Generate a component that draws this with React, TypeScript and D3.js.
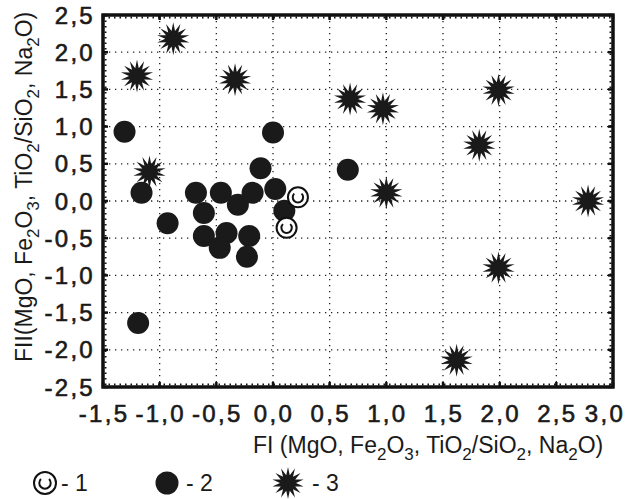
import React from "react";
import * as d3 from "d3";

// ---- data ----
const xTicks = [-1.5, -1.0, -0.5, 0.0, 0.5, 1.0, 1.5, 2.0, 2.5, 3.0];
const yTicks = [2.5, 2.0, 1.5, 1.0, 0.5, 0.0, -0.5, -1.0, -1.5, -2.0, -2.5];

const series1X = [0.22, 0.12];
const series1Y = [0.05, -0.36];

const series2X = [-1.31, 0.0, -1.16, -0.93, -1.19, 0.66, -0.11, -0.68, -0.46, -0.31, -0.18, 0.02, 0.1, -0.61, -0.61, -0.41, -0.21, -0.47, -0.23];
const series2Y = [0.93, 0.92, 0.11, -0.3, -1.64, 0.42, 0.44, 0.11, 0.11, -0.05, 0.11, 0.16, -0.13, -0.16, -0.47, -0.43, -0.47, -0.63, -0.75];

const series3X = [-0.88, -1.2, -0.335, -1.09, 0.68, 0.97, 1.99, 1.82, 1.0, 2.78, 1.99, 1.62];
const series3Y = [2.18, 1.68, 1.63, 0.39, 1.37, 1.24, 1.49, 0.75, 0.11, 0.0, -0.9, -2.14];

const legendLabels = ["- 1", "- 2", "- 3"];

// ---- layout ----
const W = 625, H = 499;
const L = 103, R = 613, T = 15, B = 387;

const x = d3.scaleLinear().domain([-1.5, 3.0]).range([L, R]);
const y = d3.scaleLinear().domain([-2.5, 2.5]).range([B, T]);
const fmt = (v: number) => d3.format(".1f")(v).replace(".", ",").replace("−", "-");

const tickFont = "'Liberation Sans Narrow', 'Arial Narrow', 'Liberation Sans', Arial, sans-serif";
const textFont = "'Liberation Sans', Arial, sans-serif";

function starPath(cx: number, cy: number, ro: number, ri: number, n: number) {
  const pts: [number, number][] = [];
  for (let i = 0; i < n * 2; i++) {
    const r = i % 2 === 0 ? ro : ri;
    const a = (Math.PI * i) / n - Math.PI / 2;
    pts.push([cx + r * Math.cos(a), cy + r * Math.sin(a)]);
  }
  return d3.line()(pts)! + "Z";
}

function CopyMark({ cx, cy, r }: { cx: number; cy: number; r: number }) {
  const arc = d3.arc()({
    innerRadius: r * 0.52,
    outerRadius: r * 0.52,
    startAngle: Math.PI * 0.25,
    endAngle: Math.PI * 1.75,
  } as any);
  return (
    <g transform={`translate(${cx},${cy})`}>
      <circle r={r} fill="white" stroke="#111" strokeWidth={2} />
      <path d={arc || ""} fill="none" stroke="#111" strokeWidth={2} />
    </g>
  );
}

function Title({ prefix }: { prefix: string }) {
  return (
    <>
      {prefix}(MgO, Fe<tspan dy={7} style={{ fontSize: 17 }}>2</tspan>
      <tspan dy={-7}>O</tspan>
      <tspan dy={7} style={{ fontSize: 17 }}>3</tspan>
      <tspan dy={-7}>, TiO</tspan>
      <tspan dy={7} style={{ fontSize: 17 }}>2</tspan>
      <tspan dy={-7}>/SiO</tspan>
      <tspan dy={7} style={{ fontSize: 17 }}>2</tspan>
      <tspan dy={-7}>, Na</tspan>
      <tspan dy={7} style={{ fontSize: 17 }}>2</tspan>
      <tspan dy={-7}>O)</tspan>
    </>
  );
}

export default function App() {
  return (
    <svg width={W} height={H} style={{ position: "absolute", left: 0, top: 0, background: "white" }}>
      <rect width={W} height={H} fill="white" />
      {/* grid */}
      <g stroke="#222" strokeWidth={1.3} strokeDasharray="1.3 4.7">
        {xTicks.slice(1, -1).map((t) => (
          <line key={"gx" + t} x1={x(t)} x2={x(t)} y1={T} y2={B} />
        ))}
        {yTicks.slice(1, -1).map((t) => (
          <line key={"gy" + t} x1={L} x2={R} y1={y(t)} y2={y(t)} />
        ))}
      </g>
      {/* minor bumps along frame */}
      <g stroke="#111" strokeWidth={2} strokeDasharray="1.5 4">
        <line x1={L + 2.5} x2={L + 2.5} y1={T} y2={B} />
        <line x1={R - 2.5} x2={R - 2.5} y1={T} y2={B} />
        <line x1={L} x2={R} y1={T + 2.5} y2={T + 2.5} />
        <line x1={L} x2={R} y1={B - 2.5} y2={B - 2.5} />
      </g>
      {/* major ticks */}
      <g stroke="#111" strokeWidth={2.5}>
        {xTicks.map((t) => (
          <g key={"tx" + t}>
            <line x1={x(t)} x2={x(t)} y1={B} y2={B - 5} />
            <line x1={x(t)} x2={x(t)} y1={T} y2={T + 5} />
          </g>
        ))}
        {yTicks.map((t) => (
          <g key={"ty" + t}>
            <line x1={L} x2={L + 5} y1={y(t)} y2={y(t)} />
            <line x1={R} x2={R - 5} y1={y(t)} y2={y(t)} />
          </g>
        ))}
      </g>
      {/* frame */}
      <rect x={L} y={T} width={R - L} height={B - T} fill="none" stroke="#111" strokeWidth={3.5} />

      {/* series 3 stars */}
      {series3X.map((v, i) => (
        <path key={"s3" + i} d={starPath(x(v), y(series3Y[i]), 16.5, 8, 14)} fill="#1a1a1a" />
      ))}
      {/* series 2 circles */}
      {series2X.map((v, i) => (
        <circle key={"s2" + i} cx={x(v)} cy={y(series2Y[i])} r={11} fill="#1a1a1a" />
      ))}
      {/* series 1 copyright marks */}
      {series1X.map((v, i) => (
        <CopyMark key={"s1" + i} cx={x(v)} cy={y(series1Y[i])} r={10} />
      ))}

      {/* y tick labels */}
      <g fontFamily={tickFont} fontSize={24} fill="#1a1a1a" stroke="#1a1a1a" strokeWidth={0.6} letterSpacing={2.3}>
        {yTicks.map((t) => (
          <text key={"yl" + t} x={95} y={y(t) + 8.5} textAnchor="end">{fmt(t)}</text>
        ))}
      </g>
      {/* x tick labels */}
      <g fontFamily={tickFont} fontSize={24} fill="#1a1a1a" stroke="#1a1a1a" strokeWidth={0.6} letterSpacing={2.3}>
        {xTicks.map((t) => (
          <text key={"xl" + t} x={Math.min(x(t), 604) + 1} y={422} textAnchor="middle">{fmt(t)}</text>
        ))}
      </g>

      {/* axis titles */}
      <text x={253} y={453} fontFamily={textFont} fontSize={23} fill="#1a1a1a">
        <Title prefix="FI " />
      </text>
      <text transform="translate(32,362) rotate(-90)" x={0} y={0} fontFamily={textFont} fontSize={23} fill="#1a1a1a">
        <Title prefix="FII" />
      </text>

      {/* legend */}
      <CopyMark cx={45} cy={483} r={11} />
      <circle cx={167} cy={483} r={11.5} fill="#1a1a1a" />
      <path d={starPath(288, 483, 16, 8, 14)} fill="#1a1a1a" />
      <g fontFamily={textFont} fontSize={23} fill="#1a1a1a">
        <text x={61} y={491}>{legendLabels[0]}</text>
        <text x={186} y={491}>{legendLabels[1]}</text>
        <text x={312} y={491}>{legendLabels[2]}</text>
      </g>
    </svg>
  );
}
